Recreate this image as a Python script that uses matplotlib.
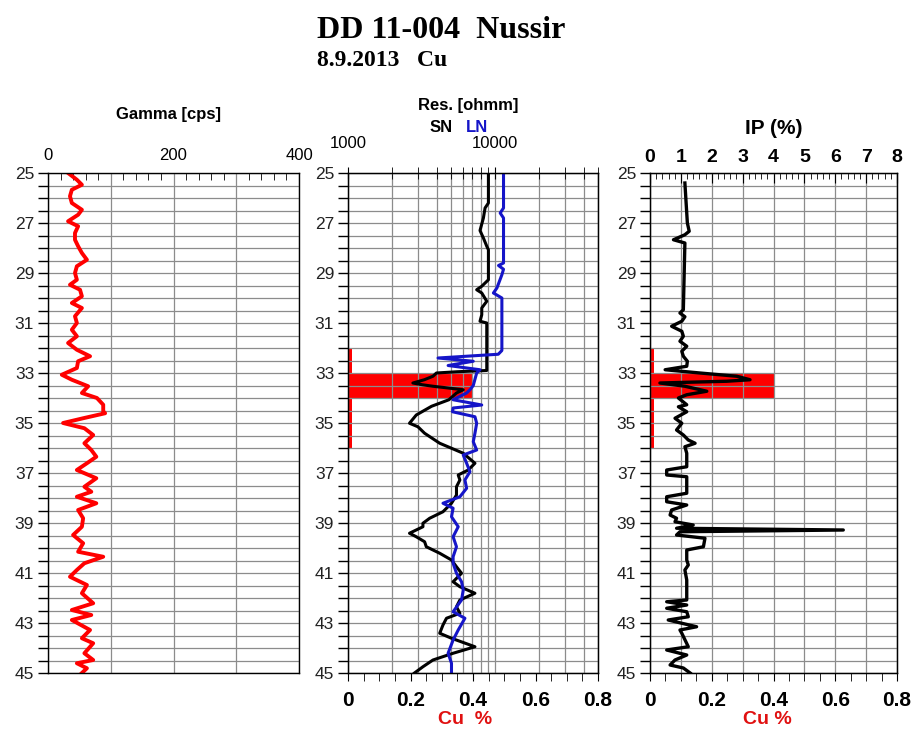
import numpy as np
import matplotlib.pyplot as plt
from matplotlib.ticker import FixedLocator, MultipleLocator, NullFormatter

plt.rcParams['font.family'] = ['Liberation Sans', 'DejaVu Sans']

# ---- data ----
gamma_depth = [25.0, 25.27, 25.47, 25.67, 25.93, 26.2, 26.47, 26.67, 26.93, 27.13,
               27.4, 27.67, 27.93, 28.2, 28.47, 28.73, 29.0, 29.27, 29.47, 29.67,
               29.93, 30.2, 30.4, 30.73, 31.0, 31.27, 31.53, 31.8, 32.07, 32.33,
               32.53, 32.8, 33.07, 33.27, 33.53, 33.8, 34.0, 34.27, 34.53, 34.61,
               34.81, 35.0, 35.21, 35.48, 35.81, 36.08, 36.35, 36.61, 36.88, 37.21,
               37.55, 37.75, 37.95, 38.21, 38.48, 38.81, 39.15, 39.48, 39.81, 40.15,
               40.35, 40.61, 40.88, 41.15, 41.48, 41.81, 42.21, 42.48, 42.68, 42.88,
               43.28, 43.61, 43.81, 44.21, 44.48, 44.61, 44.81, 45.0]
gamma_cps = [32, 46, 54, 38, 35, 38, 54, 48, 32, 48,
             43, 43, 48, 54, 62, 46, 43, 46, 35, 51,
             54, 38, 54, 43, 46, 38, 46, 32, 46, 67,
             48, 46, 22, 38, 64, 54, 78, 88, 88, 91,
             56, 24, 58, 72, 58, 69, 77, 62, 46, 77,
             58, 69, 46, 77, 48, 56, 54, 40, 56, 48,
             88, 58, 46, 35, 62, 54, 72, 38, 69, 38,
             67, 54, 72, 58, 72, 46, 62, 54]

sn_depth = [25.0, 26.2, 26.4, 26.8, 27.3, 27.6, 27.93, 28.07, 29.27, 29.53,
            29.67, 29.8, 30.13, 30.4, 30.67, 30.93, 31.0, 32.9, 32.95, 33.0,
            33.13, 33.27, 33.4, 33.47, 33.53, 33.67, 33.8, 34.07, 34.33, 34.68,
            35.01, 35.15, 35.41, 35.81, 36.21, 36.61, 36.88, 37.08, 37.28, 37.55,
            37.88, 38.21, 38.55, 38.81, 39.01, 39.15, 39.41, 39.55, 39.75, 39.95,
            40.21, 40.48, 40.75, 41.01, 41.35, 41.55, 41.81, 42.08, 42.35, 42.61,
            42.81, 43.08, 43.41, 43.61, 43.95, 44.21, 44.48, 44.75, 45.0]
sn_ohmm = [9000, 9000, 8540, 8320, 7890, 8320, 8770, 9000, 9000, 8110,
           7490, 8110, 8770, 8110, 8110, 7890, 8770, 8770, 5500, 3990,
           3780, 3300, 2760, 3200, 3780, 6070, 5460, 4850, 3700, 2910,
           2617, 2985, 3316, 4200, 6070, 7290, 6560, 5610, 5760, 5460,
           5460, 5050, 4420, 3589, 3230, 3230, 2617, 2910, 3316, 3405,
           4200, 5050, 5460, 5910, 5180, 5760, 7290, 5760, 5460, 5760,
           4670, 4420, 4200, 5050, 7290, 5180, 3780, 3230, 2830]

ln_depth = [25.0, 26.4, 26.6, 26.8, 28.6, 28.7, 28.85, 29.07, 29.6, 29.8,
            30.0, 32.1, 32.25, 32.4, 32.53, 32.7, 32.87, 33.0, 33.5, 33.67,
            33.8, 34.07, 34.28, 34.4, 34.55, 34.75, 35.01, 35.41, 35.75, 36.08,
            36.28, 36.61, 36.95, 37.28, 37.61, 37.95, 38.21, 38.41, 38.75, 39.15,
            39.55, 39.95, 40.35, 40.61, 41.01, 41.35, 41.68, 42.08, 42.55, 42.81,
            43.28, 43.68, 44.21, 44.61, 45.0]
ln_ohmm = [11400, 11400, 10820, 11400, 11400, 10540, 11400, 11110, 10280, 9730,
           11110, 11110, 10500, 4090, 7100, 4790, 7890, 7490, 7100, 6740,
           6400, 5180, 8110, 5180, 5130, 7290, 7490, 7290, 7100, 7490,
           6070, 6400, 6740, 6230, 6400, 5760, 4420, 5180, 5050, 5610,
           5180, 5460, 5180, 5180, 5460, 5910, 6070, 5910, 5180, 6230,
           5610, 5180, 4790, 5050, 5050]

ip_depth = [25.4, 27.0, 27.33, 27.47, 27.67, 27.8, 30.47, 30.6, 30.75, 30.93,
            31.13, 31.33, 31.53, 31.73, 31.93, 32.13, 32.33, 32.53, 32.73, 32.87,
            33.0, 33.13, 33.27, 33.33, 33.4, 33.53, 33.73, 33.87, 34.0, 34.27,
            34.35, 34.55, 34.81, 35.01, 35.28, 35.48, 35.68, 35.81, 35.95, 36.21,
            36.75, 36.88, 37.08, 37.15, 37.81, 37.95, 38.15, 38.28, 38.48, 38.68,
            38.81, 38.95, 39.08, 39.21, 39.28, 39.35, 39.48, 39.61, 39.95, 40.08,
            40.48, 40.68, 40.88, 41.28, 42.08, 42.15, 42.28, 42.41, 42.55, 42.75,
            42.88, 43.01, 43.15, 43.28, 43.41, 43.95, 44.08, 44.28, 44.48, 44.68,
            44.8, 45.0]
ip_pct = [1.13, 1.21, 1.27, 1.13, 0.76, 1.13, 1.08, 0.97, 1.13, 1.03,
          0.70, 1.03, 1.08, 0.97, 1.19, 1.03, 1.08, 1.21, 1.19, 0.49,
          1.62, 2.81, 3.24, 2.48, 0.32, 1.13, 1.84, 1.19, 0.92, 1.19,
          0.92, 1.19, 0.81, 1.03, 0.86, 1.08, 1.24, 1.46, 1.13, 1.19,
          1.19, 0.54, 0.54, 1.19, 1.19, 0.54, 0.54, 1.19, 0.70, 0.65,
          0.86, 0.81, 1.40, 0.86, 6.26, 0.97, 0.86, 1.78, 1.73, 1.19,
          1.19, 1.24, 1.13, 1.19, 1.19, 0.54, 1.19, 0.54, 1.19, 1.24,
          0.59, 1.03, 1.51, 0.97, 1.03, 1.24, 0.54, 1.19, 0.81, 0.65,
          1.08, 1.30]

cu_top = [32, 33, 34, 35]
cu_bottom = [33, 34, 35, 36]
cu_pct = [0.013, 0.40, 0.013, 0.013]

depth_labels = list(range(25, 46, 2))
cu_ticks = [0, 0.2, 0.4, 0.6, 0.8]
cu_ticklabels = ['0', '0.2', '0.4', '0.6', '0.8']

# ---- layout ----
W, H = 915, 731
GRID = '#8c8c8c'


def box(x0, y0, x1, y1):
    return [x0 / W, 1 - y1 / H, (x1 - x0) / W, (y1 - y0) / H]


def depth_axis(ax):
    ax.set_ylim(45, 25)
    ax.yaxis.set_major_locator(FixedLocator(depth_labels))
    ax.yaxis.set_minor_locator(MultipleLocator(0.5))
    ax.tick_params(axis='y', which='both', direction='out', length=7,
                   width=1, labelsize=12.5, pad=3, colors='black')
    ax.tick_params(axis='y', labelcolor='#222222')
    ax.grid(axis='y', which='both', color=GRID, lw=0.9)
    for s in ax.spines.values():
        s.set_linewidth(1.0)


def cu_bars(ax):
    widths = np.array(cu_bottom) - np.array(cu_top)
    ax.barh(cu_top, cu_pct, height=widths, left=0, align='edge',
            color='red', edgecolor='none')
    ax.set_xlim(0, 0.8)
    ax.xaxis.tick_bottom()
    ax.set_xticks(cu_ticks)
    ax.set_xticklabels(cu_ticklabels, fontsize=15, fontweight='bold')
    ax.xaxis.set_minor_locator(MultipleLocator(0.05))
    ax.tick_params(axis='x', which='both', direction='out', length=6, pad=7)
    ax.patch.set_facecolor('white')


fig = plt.figure(figsize=(W / 100, H / 100), dpi=100)

# Gamma track
ax_g = fig.add_axes(box(48, 173, 299, 673))
depth_axis(ax_g)
ax_g.plot(gamma_cps, gamma_depth, color='red', lw=2.8)
ax_g.set_xlim(0, 400)
ax_g.xaxis.tick_top()
ax_g.set_xticks([0, 100, 200, 300, 400])
ax_g.set_xticklabels(['0', '', '200', '', '400'], fontsize=12)
ax_g.xaxis.set_minor_locator(MultipleLocator(20))
ax_g.tick_params(axis='x', which='major', direction='in', length=0, pad=7)
ax_g.tick_params(axis='x', which='minor', direction='in', length=5)
ax_g.grid(axis='x', which='major', color=GRID, lw=0.9)
ax_g.text(0.48, 1.117, 'Gamma [cps]', transform=ax_g.transAxes, ha='center',
          va='center', fontsize=12, fontweight='bold')

# Resistivity track
ax_r = fig.add_axes(box(348, 173, 598, 673))
ax_rc = ax_r.twiny()
ax_rc.set_zorder(ax_r.get_zorder() - 1)
ax_r.patch.set_visible(False)
cu_bars(ax_rc)
depth_axis(ax_r)
ax_r.plot(sn_ohmm, sn_depth, color='black', lw=2.2)
ax_r.plot(ln_ohmm, ln_depth, color='#1515c8', lw=2.2)
ax_r.set_xscale('log')
ax_r.set_xlim(1000, 50000)
ax_r.xaxis.tick_top()
ax_r.set_xticks([1000, 10000])
ax_r.set_xticklabels(['1000', '10000'], fontsize=12)
ax_r.xaxis.set_minor_locator(FixedLocator(
    [2000, 3000, 4000, 5000, 6000, 7000, 8000, 9000, 20000, 30000, 40000, 50000]))
ax_r.xaxis.set_minor_formatter(NullFormatter())
ax_r.tick_params(axis='x', which='both', direction='inout', length=9, pad=11)
ax_r.grid(axis='x', which='both', color=GRID, lw=0.9)
ax_r.text(0.48, 1.135, 'Res. [ohmm]', transform=ax_r.transAxes, ha='center',
          va='center', fontsize=12, fontweight='bold')
ax_r.text(0.42, 1.092, 'SN', transform=ax_r.transAxes, ha='right',
          va='center', fontsize=12, fontweight='bold', color='black')
ax_r.text(0.47, 1.092, 'LN', transform=ax_r.transAxes, ha='left',
          va='center', fontsize=12, fontweight='bold', color='#1515c8')

# IP track
ax_i = fig.add_axes(box(650, 173, 897, 673))
ax_ic = ax_i.twiny()
ax_ic.set_zorder(ax_i.get_zorder() - 1)
ax_i.patch.set_visible(False)
cu_bars(ax_ic)
depth_axis(ax_i)
ax_i.plot(ip_pct, ip_depth, color='black', lw=2.4)
ax_i.set_xlim(0, 8)
ax_i.xaxis.tick_top()
ax_i.set_xticks(range(0, 9))
ax_i.set_xticklabels([str(v) for v in range(0, 9)], fontsize=14, fontweight='bold')
ax_i.xaxis.set_minor_locator(MultipleLocator(0.2))
ax_i.tick_params(axis='x', which='major', direction='in', length=7, pad=5)
ax_i.tick_params(axis='x', which='minor', direction='in', length=4)
ax_i.grid(axis='x', which='major', color=GRID, lw=0.9)
ax_i.text(0.5, 1.09, 'IP (%)', transform=ax_i.transAxes, ha='center',
          va='center', fontsize=15, fontweight='bold')

# bottom labels and titles
fig.text(465 / W, 1 - 720 / H, 'Cu  %', color='#e01010', fontsize=14,
         fontweight='bold', ha='center', va='center')
fig.text(767 / W, 1 - 720 / H, 'Cu %', color='#e01010', fontsize=14,
         fontweight='bold', ha='center', va='center')
fig.text(441 / W, 1 - 30 / H, 'DD 11-004  Nussir', family='Liberation Serif',
         fontweight='bold', fontsize=23, ha='center', va='center')
fig.text(317 / W, 1 - 60 / H, '8.9.2013   Cu', family='Liberation Serif',
         fontweight='bold', fontsize=17, ha='left', va='center')

fig.savefig('out.png', dpi=100)
